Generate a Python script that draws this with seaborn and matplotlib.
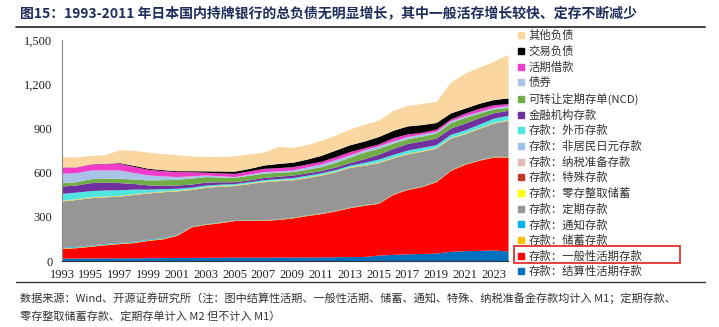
import numpy as np
import pandas as pd
import matplotlib
matplotlib.use("Agg")
import matplotlib.pyplot as plt
from matplotlib.lines import Line2D
from matplotlib.patches import Rectangle
import seaborn as sns

# ---- data (units: trillion yen) ----
years = list(range(1993, 2025))

settlement_demand = [20, 20, 21, 21, 22, 22, 23, 23, 24, 24, 25, 25, 26, 26, 26, 27,
                     27, 28, 28, 29, 30, 31, 40, 45, 49, 51, 54, 66, 70, 72, 75, 68]
general_demand = [66, 70, 79, 89, 96, 103, 117, 127, 151, 208, 223, 235, 249, 249, 249, 255,
                  265, 280, 294, 311, 332, 347, 352, 407, 436, 454, 484, 549, 586, 612, 631, 637]
savings = [4] * 9 + [3] * 23
notice = [5] * 9 + [2] * 23
time_dep = [312, 319, 321, 317, 313, 318, 313, 311, 292, 249, 247, 243, 232, 245, 258, 258,
            253, 253, 256, 260, 268, 267, 271, 243, 237, 235, 223, 214, 203, 211, 225, 245]
installment = [3] * 32
special = [1] * 32
tax_reserve = [1] * 32
nonres_yen = [1] * 32
foreign = [46, 44, 42, 40, 38, 30, 20, 15, 12, 10, 10, 8, 8, 8, 8, 9,
           10, 10, 10, 10, 10, 14, 18, 18, 20, 20, 18, 20, 20, 24, 28, 28]
fin_inst = [50, 48, 54, 53, 48, 38, 28, 24, 22, 20, 20, 16, 12, 12, 15, 15,
            17, 16, 15, 17, 17, 25, 33, 40, 45, 44, 44, 42, 46, 44, 36, 34]
ncd = [23, 22, 27, 27, 30, 30, 34, 37, 39, 40, 37, 32, 30, 31, 29, 27,
       24, 24, 27, 32, 37, 45, 41, 36, 32, 33, 34, 38, 39, 31, 26, 20]
bonds = [64, 62, 59, 56, 56, 44, 34, 26, 18, 16, 11, 8, 5, 8, 11, 10,
         11, 16, 18, 18, 16, 15, 16, 15, 15, 14, 12, 12, 11, 10, 11, 12]
call_money = [42, 38, 41, 43, 46, 42, 38, 35, 34, 28, 18, 20, 22, 22, 22, 22,
              22, 20, 18, 20, 22, 14, 13, 22, 18, 12, 15, 12, 18, 22, 18, 13]
trading = [1, 1, 1, 2, 4, 7, 7, 7, 6, 7, 10, 13, 15, 16, 22, 28,
           30, 33, 40, 45, 46, 45, 50, 50, 54, 52, 45, 41, 34, 34, 35, 39]
other = [70, 67, 57, 59, 87, 102, 110, 108, 108, 100, 97, 99, 104, 99, 87, 116,
         101, 99, 102, 102, 107, 114, 110, 136, 139, 143, 143, 209, 238, 245, 261, 295]

# series in stacking order (bottom -> top)
series = [
    ("存款：结算性活期存款", settlement_demand, "#0070C0"),
    ("存款：一般性活期存款", general_demand, "#FF0000"),
    ("存款：储蓄存款", savings, "#FFC000"),
    ("存款：通知存款", notice, "#00B0F0"),
    ("存款：定期存款", time_dep, "#969696"),
    ("存款：零存整取储蓄", installment, "#FFFF00"),
    ("存款：特殊存款", special, "#C0392B"),
    ("存款：纳税准备存款", tax_reserve, "#E6B8B7"),
    ("存款：非居民日元存款", nonres_yen, "#9DC3E6"),
    ("存款：外币存款", foreign, "#4FE6E0"),
    ("金融机构存款", fin_inst, "#7030A0"),
    ("可转让定期存单(NCD)", ncd, "#70AD47"),
    ("债券", bonds, "#A9C4E8"),
    ("活期借款", call_money, "#F03CC8"),
    ("交易负债", trading, "#000000"),
    ("其他负债", other, "#FAD7A0"),
]

df = pd.DataFrame({name: vals for name, vals, _ in series}, index=years)

sns.set_theme(style="white")
plt.rcParams["font.family"] = ["Noto Sans CJK SC", "DejaVu Sans"]
plt.rcParams["axes.unicode_minus"] = False

W, H = 719, 327
fig = plt.figure(figsize=(W / 100, H / 100), dpi=100)
ax = fig.add_axes([62 / W, 1 - 261 / H, (508 - 62) / W, (261 - 40) / H])

names = [s[0] for s in series]
colors = [s[2] for s in series]
ax.stackplot(df.index, [df[n].values for n in names], colors=colors, linewidth=0)

ax.set_xlim(1993, 2024)
ax.set_ylim(0, 1500)
ax.set_xticks(list(range(1993, 2024, 2)))
ax.set_yticks([0, 300, 600, 900, 1200, 1500])
ax.set_yticklabels(["0", "300", "600", "900", "1,200", "1,500"])
for lab in ax.get_xticklabels() + ax.get_yticklabels():
    lab.set_fontfamily("Liberation Serif")
    lab.set_fontsize(9)
    lab.set_color("#222222")
ax.tick_params(axis="x", direction="in", length=3, width=0.8, color="#333333", pad=6)
ax.tick_params(axis="y", direction="out", length=3, width=0.8, color="#888888", pad=4)
for side in ["top", "right"]:
    ax.spines[side].set_visible(False)
ax.spines["left"].set_color("#888888")
ax.spines["left"].set_linewidth(0.8)
ax.spines["bottom"].set_color("#333333")
ax.spines["bottom"].set_linewidth(0.8)
ax.grid(False)

# legend, top entry first
handles = [Line2D([], [], marker="s", linestyle="none", markersize=5,
                  markerfacecolor=c, markeredgecolor=c) for c in colors[::-1]]
leg = fig.legend(handles, names[::-1], loc="upper left",
                 bbox_to_anchor=(516 / W, 1 - 30 / H), bbox_transform=fig.transFigure,
                 frameon=False, fontsize=8.2, handlelength=0.8, handletextpad=0.3,
                 labelspacing=0.40, borderaxespad=0, borderpad=0)
for t in leg.get_texts():
    t.set_color("#333333")
    t.set_fontfamily(["Noto Sans CJK SC", "DejaVu Sans"])

# highlight box around the general demand deposit entry
fig.add_artist(Rectangle((514 / W, 1 - 263 / H), 166 / W, 17 / H,
                         transform=fig.transFigure, fill=False,
                         edgecolor="#E03030", linewidth=1.3))

# title and rules
fig.text(20 / W, 1 - 14 / H,
         "图15：1993-2011 年日本国内持牌银行的总负债无明显增长，其中一般活存增长较快、定存不断减少",
         fontsize=10.0, fontweight="bold", color="#1F2D5A", va="center", ha="left")
fig.add_artist(Line2D([16 / W, 705 / W], [1 - 27 / H, 1 - 27 / H],
                      transform=fig.transFigure, color="#333333", linewidth=1.3))
fig.add_artist(Line2D([16 / W, 705 / W], [1 - 282 / H, 1 - 282 / H],
                      transform=fig.transFigure, color="#333333", linewidth=1.0))

# source note
fig.text(20 / W, 1 - 298 / H,
         "数据来源：Wind、开源证券研究所（注：图中结算性活期、一般性活期、储蓄、通知、特殊、纳税准备金存款均计入 M1；定期存款、",
         fontsize=8.0, color="#333333", va="center", ha="left")
fig.text(20 / W, 1 - 316 / H,
         "零存整取储蓄存款、定期存单计入 M2 但不计入 M1）",
         fontsize=8.0, color="#333333", va="center", ha="left")

fig.savefig("out.png", dpi=100)
